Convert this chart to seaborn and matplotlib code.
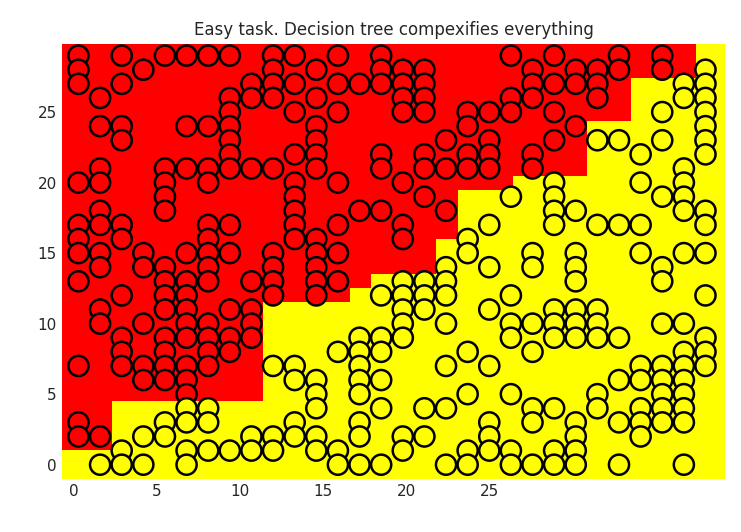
import numpy as np
import pandas as pd
import matplotlib
matplotlib.use("Agg")
import matplotlib.pyplot as plt
import seaborn as sns

# x positions of the point columns (data units)
col_x = [0.3, 1.6, 2.9, 4.2, 5.5, 6.8, 8.1, 9.4, 10.7, 12.0, 13.3, 14.6, 15.9, 17.2, 18.5,
         19.8, 21.1, 22.4, 23.7, 25.0, 26.3, 27.6, 28.9, 30.2, 31.5, 32.8, 34.1, 35.4, 36.7, 38.0]
col_y = [
    [29, 28, 27, 20, 17, 16, 15, 13, 7, 3, 2],
    [26, 24, 21, 20, 18, 17, 15, 14, 11, 10, 2, 0],
    [29, 27, 24, 23, 17, 16, 12, 9, 8, 7, 1, 0],
    [28, 15, 14, 10, 7, 6, 2, 0],
    [29, 21, 20, 19, 18, 14, 13, 12, 11, 9, 8, 7, 6, 3, 2],
    [29, 24, 21, 15, 13, 12, 11, 10, 9, 7, 6, 5, 4, 3, 1, 0],
    [29, 24, 21, 20, 17, 16, 15, 14, 13, 10, 9, 8, 7, 4, 3, 1],
    [29, 26, 25, 24, 23, 22, 21, 17, 15, 11, 9, 8, 1],
    [27, 26, 21, 13, 11, 10, 9, 2, 1],
    [29, 28, 27, 26, 21, 15, 14, 13, 12, 7, 2, 1],
    [29, 27, 25, 22, 20, 19, 18, 17, 16, 7, 6, 3, 2],
    [28, 26, 24, 23, 22, 21, 16, 15, 14, 13, 12, 6, 5, 4, 2, 1],
    [29, 27, 25, 20, 17, 15, 13, 8, 1, 0],
    [27, 18, 9, 8, 7, 6, 5, 3, 2, 0],
    [29, 28, 27, 22, 21, 18, 12, 9, 8, 6, 4, 0],
    [28, 27, 26, 25, 20, 17, 16, 13, 12, 11, 10, 9, 2, 1],
    [28, 27, 26, 25, 22, 21, 19, 13, 12, 11, 4, 2],
    [23, 21, 18, 14, 13, 12, 10, 7, 4, 0],
    [25, 24, 22, 21, 16, 15, 8, 5, 1, 0],
    [25, 23, 22, 21, 17, 14, 11, 7, 3, 2, 1],
    [29, 26, 25, 19, 12, 10, 9, 5, 1, 0],
    [28, 27, 26, 22, 21, 15, 14, 10, 8, 4, 3, 0],
    [29, 27, 25, 23, 20, 19, 18, 17, 11, 10, 9, 4, 1, 0],
    [28, 27, 24, 18, 15, 14, 13, 11, 10, 9, 3, 2, 1, 0],
    [28, 27, 26, 23, 17, 11, 10, 9, 5, 4],
    [29, 28, 23, 17, 9, 6, 3, 0],
    [22, 20, 17, 15, 7, 6, 4, 3, 2],
    [29, 28, 25, 23, 19, 14, 13, 10, 7, 6, 5, 4, 3],
    [27, 26, 21, 20, 19, 18, 15, 10, 8, 7, 6, 5, 4, 3, 0],
    [28, 27, 26, 25, 24, 23, 22, 18, 17, 15, 12, 9, 8, 7],
]
# decision regions: x edges and the y threshold (red above) per segment
region_edges = [-0.72, 2.3, 11.4, 16.6, 17.9, 21.8, 23.1, 26.4, 30.9, 33.5, 37.4, 39.2]
region_thr = [1.07, 4.55, 11.5, 12.5, 13.5, 16.0, 19.5, 20.5, 24.4, 27.4, 30.0]
y_low, y_high = -1.0, 29.85

def thr_at(x):
    i = np.searchsorted(region_edges, x) - 1
    return region_thr[min(max(i, 0), len(region_thr) - 1)]

rows = []
for x, ys in zip(col_x, col_y):
    for y in ys:
        rows.append((x, y, "red" if y > thr_at(x) else "yellow"))
df = pd.DataFrame(rows, columns=["x", "y", "cls"])

sns.set_style("white")
fig, ax = plt.subplots(figsize=(7.41, 5.32), dpi=100)
left = region_edges[:-1]
widths = np.diff(region_edges)
thr = np.array(region_thr)
ax.bar(left, thr - y_low, width=widths, bottom=y_low, align="edge", color="yellow", linewidth=0)
ax.bar(left, y_high - thr, width=widths, bottom=thr, align="edge", color="red", linewidth=0)
sns.scatterplot(data=df, x="x", y="y", hue="cls", palette={"red": "red", "yellow": "yellow"},
                s=210, edgecolor="black", linewidth=1.8, legend=False, ax=ax, zorder=3)
ax.set_xlim(region_edges[0], region_edges[-1])
ax.set_ylim(y_low, y_high)
ax.set_xticks([0, 5, 10, 15, 20, 25])
ax.set_yticks([0, 5, 10, 15, 20, 25])
ax.set_xlabel("")
ax.set_ylabel("")
ax.tick_params(labelsize=11, length=0)
for s in ax.spines.values():
    s.set_visible(False)
ax.set_title("Easy task. Decision tree compexifies everything", fontsize=12)
fig.subplots_adjust(left=0.083, right=0.979, bottom=0.1, top=0.918)
fig.savefig("out.png")
